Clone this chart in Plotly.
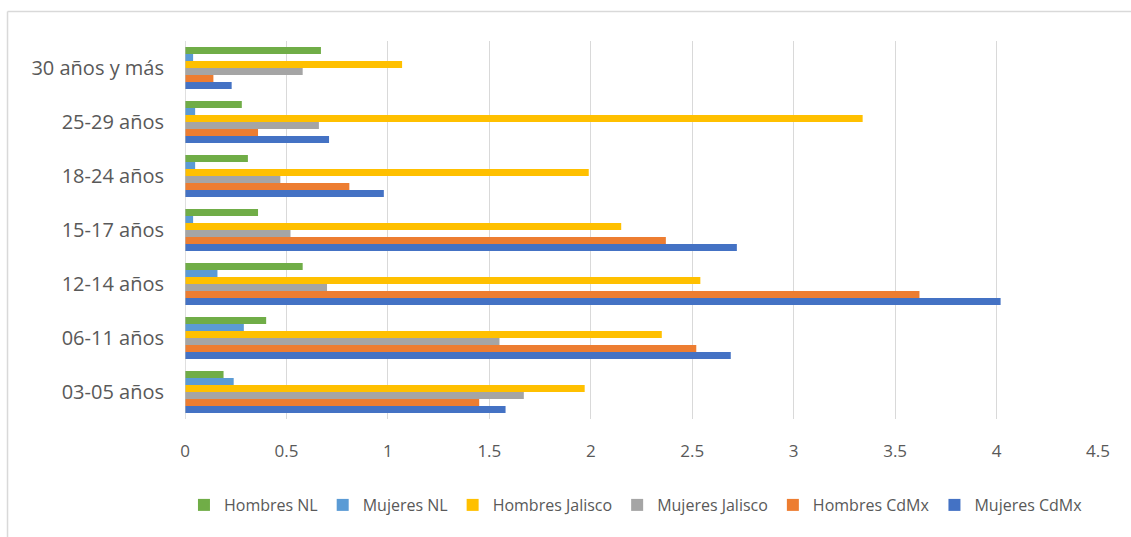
import plotly.graph_objects as go

categories = ["03-05 años", "06-11 años", "12-14 años", "15-17 años",
              "18-24 años", "25-29 años", "30 años y más"]

mujeres_cdmx = [1.58, 2.69, 4.02, 2.72, 0.98, 0.71, 0.23]
hombres_cdmx = [1.45, 2.52, 3.62, 2.37, 0.81, 0.36, 0.14]
mujeres_jalisco = [1.67, 1.55, 0.70, 0.52, 0.47, 0.66, 0.58]
hombres_jalisco = [1.97, 2.35, 2.54, 2.15, 1.99, 3.34, 1.07]
mujeres_nl = [0.24, 0.29, 0.16, 0.04, 0.05, 0.05, 0.04]
hombres_nl = [0.19, 0.40, 0.58, 0.36, 0.31, 0.28, 0.67]

series = [
    ("Mujeres CdMx", mujeres_cdmx, "#4472C4"),
    ("Hombres CdMx", hombres_cdmx, "#ED7D31"),
    ("Mujeres Jalisco", mujeres_jalisco, "#A5A5A5"),
    ("Hombres Jalisco", hombres_jalisco, "#FFC000"),
    ("Mujeres NL", mujeres_nl, "#5B9BD5"),
    ("Hombres NL", hombres_nl, "#70AD47"),
]

FONT = "'Open Sans', Lato, sans-serif"
TEXT = "#595959"

fig = go.Figure()
for name, vals, color in series:
    fig.add_trace(go.Bar(
        y=categories, x=vals, name=name, orientation="h",
        marker=dict(color=color, line=dict(width=0)),
    ))

fig.update_layout(
    width=1131, height=537,
    margin=dict(l=185, r=33, t=41, b=118, autoexpand=False),
    barmode="group", bargap=0.22, bargroupgap=0,
    plot_bgcolor="white", paper_bgcolor="white",
    font=dict(family=FONT, color=TEXT, size=16),
    showlegend=True,
    legend=dict(orientation="h", traceorder="reversed",
                xref="container", yref="container",
                x=0.5623, xanchor="center", y=0.0596, yanchor="middle",
                font=dict(size=16, color=TEXT), itemwidth=30,
                itemsizing="constant"),
    xaxis=dict(range=[0, 4.5], dtick=0.5, showgrid=True,
               gridcolor="#D9D9D9", gridwidth=1, zeroline=False,
               showline=False, ticks="", ticklabelstandoff=20,
               tickfont=dict(size=17, color=TEXT)),
    yaxis=dict(categoryorder="array", categoryarray=categories,
               showgrid=False, zeroline=False, showline=False,
               ticks="", ticklabelstandoff=20,
               tickfont=dict(size=20, color=TEXT)),
    shapes=[
        # axis line at zero
        dict(type="line", xref="x", yref="paper", x0=0, x1=0, y0=0, y1=1,
             line=dict(color="#BFBFBF", width=1)),
        # outer frame (top and left edges)
        dict(type="line", xref="paper", yref="paper",
             x0=-0.1944, x1=1.1, y0=1.078, y1=1.078,
             line=dict(color="#D9D9D9", width=1.5)),
        dict(type="line", xref="paper", yref="paper",
             x0=-0.1944, x1=-0.1944, y0=-0.32, y1=1.078,
             line=dict(color="#D9D9D9", width=1.5)),
    ],
)

fig.write_html("out.html")
